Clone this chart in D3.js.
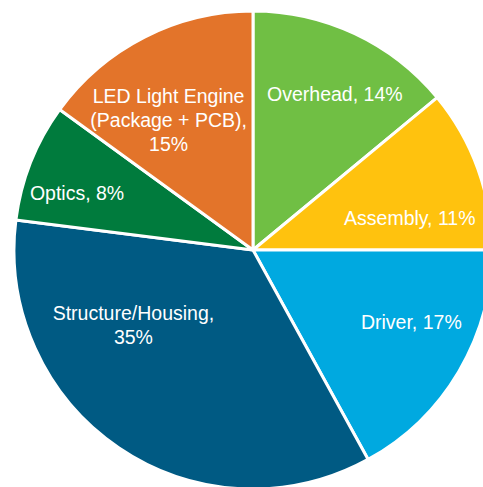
<!DOCTYPE html>
<meta charset="utf-8" />
<style>
  body {
    margin: 0;
    background: #fff;
  }
  .labels text {
    fill: #fff;
    font-family: "Liberation Sans", Arial, sans-serif;
    font-size: 19.5px;
    text-anchor: middle;
  }
</style>
<svg width="483" height="487"></svg>
<script src="https://d3js.org/d3.v7.min.js"></script>
<script>
  /* global d3 */

  // cost breakdown, clockwise from 12 o'clock
  var categories = [
    "Overhead",
    "Assembly",
    "Driver",
    "Structure/Housing",
    "Optics",
    "LED Light Engine (Package + PCB)"
  ];
  var shares = [14, 11, 17, 35, 8, 15];
  var labelLines = [
    ["Overhead, 14%"],
    ["Assembly, 11%"],
    ["Driver, 17%"],
    ["Structure/Housing,", "35%"],
    ["Optics, 8%"],
    ["LED Light Engine", "(Package + PCB),", "15%"]
  ];
  var colors = ["#70bf44", "#ffc20e", "#00a9e0", "#005a83", "#007b3d", "#e3742a"];

  // label anchor nudges (angle in degrees from top, distance from centre)
  var labelPolar = [
    [27.7, 176],
    [78.5, 160],
    [114.5, 174],
    [238, 141],
    [288, 185],
    [327, 155]
  ];

  var svg = d3.select("svg"),
    cx = 253,
    cy = 250,
    radius = 239;

  var data = categories.map(function (c, i) {
    return { name: c, value: shares[i], lines: labelLines[i], color: colors[i], pos: labelPolar[i] };
  });

  var pie = d3.pie().sort(null).value(function (d) { return d.value; });
  var arc = d3.arc().innerRadius(0).outerRadius(radius);

  var g = svg.append("g").attr("transform", "translate(" + cx + "," + cy + ")");

  g.selectAll("path")
    .data(pie(data))
    .enter()
    .append("path")
    .attr("d", arc)
    .attr("fill", function (d) { return d.data.color; })
    .attr("stroke", "#fff")
    .attr("stroke-width", 3)
    .attr("stroke-linejoin", "round");

  var lineH = 24;
  var labels = g.append("g").attr("class", "labels")
    .selectAll("text")
    .data(pie(data))
    .enter()
    .append("text")
    .attr("transform", function (d) {
      var a = d.data.pos[0] * Math.PI / 180, r = d.data.pos[1];
      return "translate(" + (Math.sin(a) * r) + "," + (-Math.cos(a) * r) + ")";
    });

  labels.selectAll("tspan")
    .data(function (d) {
      var n = d.data.lines.length;
      return d.data.lines.map(function (t, i) { return { t: t, y: (i - (n - 1) / 2) * lineH }; });
    })
    .enter()
    .append("tspan")
    .attr("x", 0)
    .attr("y", function (d) { return d.y; })
    .attr("dy", "0.35em")
    .text(function (d) { return d.t; });
</script>
